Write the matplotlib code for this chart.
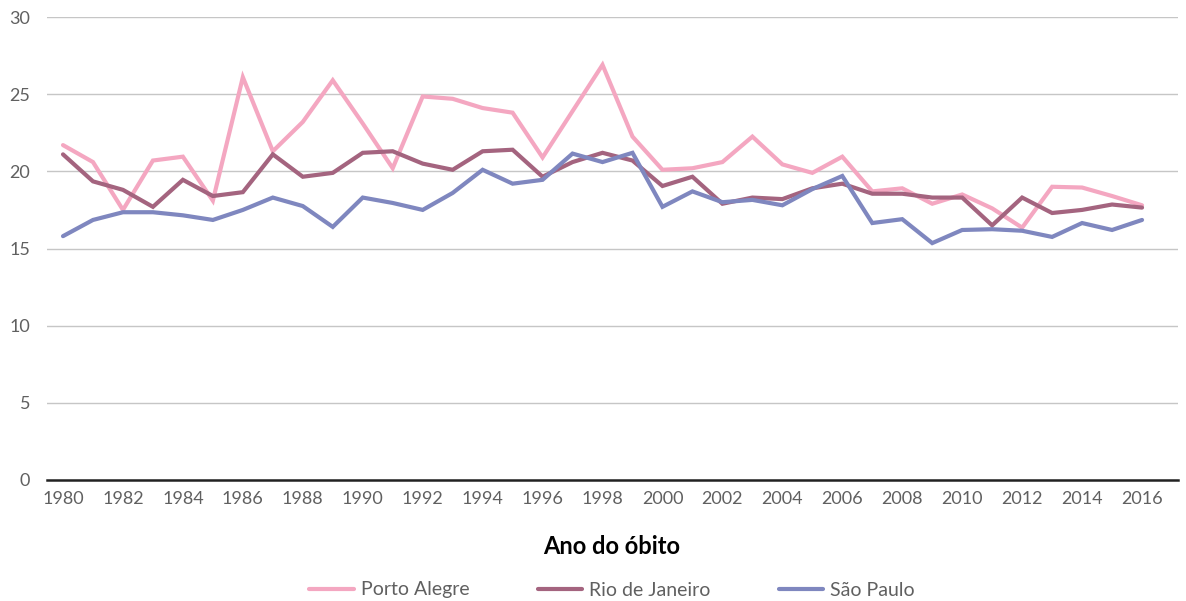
import matplotlib
matplotlib.use("Agg")
import matplotlib.pyplot as plt

years = list(range(1980, 2017))

porto_alegre = [21.7, 20.6, 17.5, 20.7, 20.95, 18.1, 26.1, 21.3, 23.2, 25.9,
                23.1, 20.2, 24.85, 24.7, 24.1, 23.8, 20.9, 23.9, 26.9, 22.25,
                20.1, 20.2, 20.6, 22.25, 20.45, 19.9, 20.95, 18.7, 18.9, 17.9,
                18.5, 17.6, 16.35, 19.0, 18.95, 18.4, 17.8]
rio_de_janeiro = [21.1, 19.35, 18.8, 17.7, 19.45, 18.4, 18.65, 21.1, 19.65, 19.9,
                  21.2, 21.3, 20.5, 20.1, 21.3, 21.4, 19.65, 20.6, 21.2, 20.7,
                  19.05, 19.65, 17.9, 18.3, 18.2, 18.9, 19.2, 18.55, 18.55, 18.3,
                  18.3, 16.5, 18.3, 17.3, 17.5, 17.85, 17.65]
sao_paulo = [15.8, 16.85, 17.35, 17.35, 17.15, 16.85, 17.5, 18.3, 17.75, 16.4,
             18.3, 17.95, 17.5, 18.6, 20.1, 19.2, 19.45, 21.15, 20.6, 21.2,
             17.7, 18.7, 18.0, 18.15, 17.8, 18.85, 19.7, 16.65, 16.9, 15.35,
             16.2, 16.25, 16.15, 15.75, 16.65, 16.2, 16.85]

series_names = ["Porto Alegre", "Rio de Janeiro", "São Paulo"]
series_colors = ["#F4A7C1", "#A4647F", "#7F87BF"]
x_ticks = list(range(1980, 2017, 2))
y_ticks = [0, 5, 10, 15, 20, 25, 30]

plt.rcParams["font.family"] = ["Lato", "DejaVu Sans"]

fig = plt.figure(figsize=(11.86, 6.01), dpi=100)
ax = fig.add_axes([47 / 1186, 1 - 480 / 601, 1131 / 1186, 463 / 601])

for vals, name, col in zip([porto_alegre, rio_de_janeiro, sao_paulo], series_names, series_colors):
    ax.plot(years, vals, color=col, lw=3, label=name, solid_capstyle="round", solid_joinstyle="miter")

ax.set_xlim(1979.466, 2017.2)
ax.set_ylim(0, 30)
ax.set_yticks(y_ticks)
ax.set_xticks(x_ticks)
ax.yaxis.grid(True, color="#c6c6c6", lw=1)
ax.set_axisbelow(True)
for s in ["top", "right", "left"]:
    ax.spines[s].set_visible(False)
ax.spines["bottom"].set_color("#222222")
ax.spines["bottom"].set_linewidth(1.8)
ax.tick_params(axis="y", length=0, pad=12, labelsize=13, labelcolor="#606060")
ax.tick_params(axis="x", length=0, pad=8, labelsize=13, labelcolor="#606060")

fig.text(612 / 1186, 1 - 547 / 601, "Ano do óbito", ha="center", va="center",
         fontsize=17, fontweight="bold", color="black")

fig.legend(loc="center", bbox_to_anchor=(612 / 1186, 1 - 590 / 601), ncol=3, frameon=False,
           fontsize=14, handlelength=2.3, handletextpad=0.35, columnspacing=3.5,
           labelcolor="#606060")

fig.savefig("out.png", dpi=100)
